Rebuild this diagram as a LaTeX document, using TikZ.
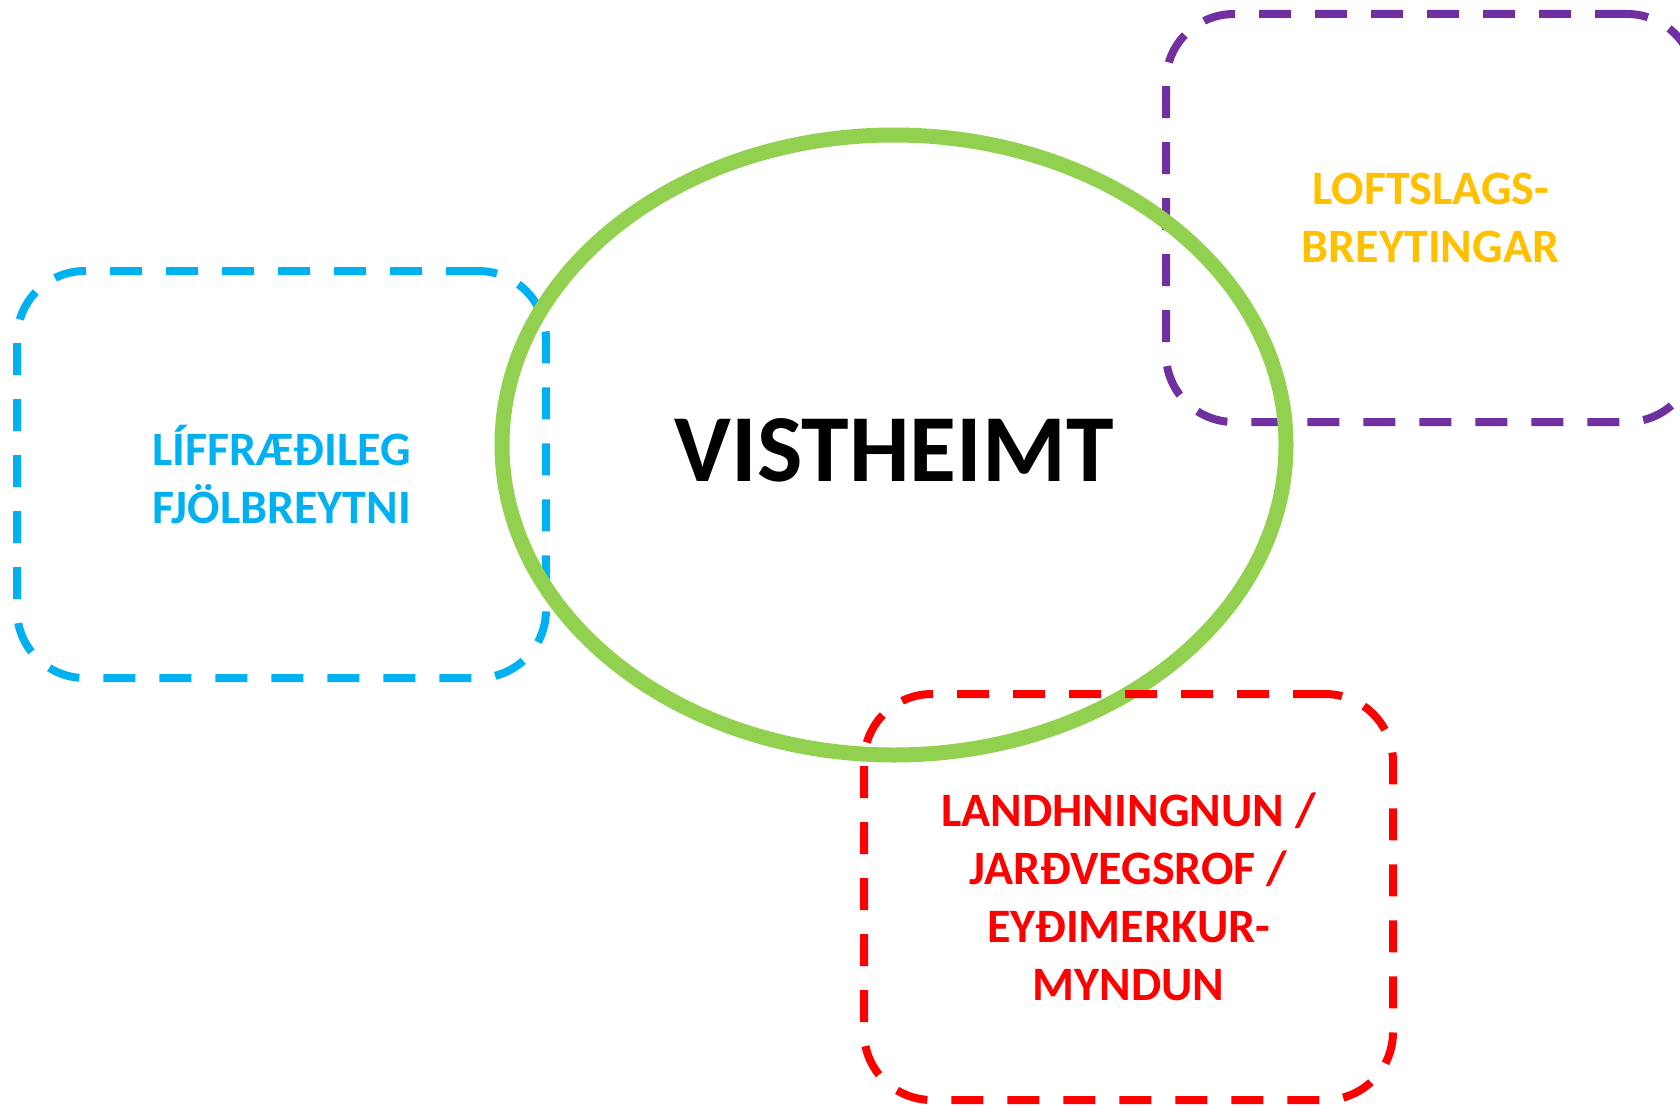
\documentclass[tikz,border=0pt]{standalone}
\usepackage{fontspec}
\setmainfont{Carlito}
\usetikzlibrary{shapes.geometric}
\definecolor{cblue}{HTML}{00B0F0}
\definecolor{cpurple}{HTML}{7030A0}
\definecolor{corange}{HTML}{FFC000}
\definecolor{cred}{HTML}{FF0000}
\definecolor{cgreen}{HTML}{92D050}
\begin{document}
\begin{tikzpicture}[x=1pt,y=-1pt,
  box/.style={draw, line width=8pt, dash pattern=on 32pt off 24pt,
    rounded corners=68pt, minimum width=529pt, minimum height=407pt,
    inner sep=0pt, align=center,
    font=\fontsize{48}{58}\selectfont\bfseries},
  hub/.style={ellipse, draw=cgreen, line width=15pt, minimum width=784pt,
    minimum height=620pt, inner sep=0pt},
  hublabel/.style={font=\fontsize{96}{110}\selectfont\bfseries, inner sep=0pt}]
\useasboundingbox (0,0) rectangle (1680,1105);
\node[box, draw=cblue, text=cblue] (bio) at (281.5,474.5) {LÍFFRÆÐILEG\\FJÖLBREYTNI};
\node[box, draw=cpurple, text=corange, minimum height=408pt] (clim) at (1430.5,218) {LOFTSLAGS-\\BREYTINGAR};
\node[hub] (eco) at (894,445) {};
\node[hublabel] (ecolabel) at ([yshift=-5pt]eco.center) {VISTHEIMT};
\node[box, draw=cred, text=cred, minimum height=406pt] (land) at (1128.5,897) {LANDHNINGNUN /\\JARÐVEGSROF /\\EYÐIMERKUR-\\MYNDUN};
\end{tikzpicture}
\end{document}
